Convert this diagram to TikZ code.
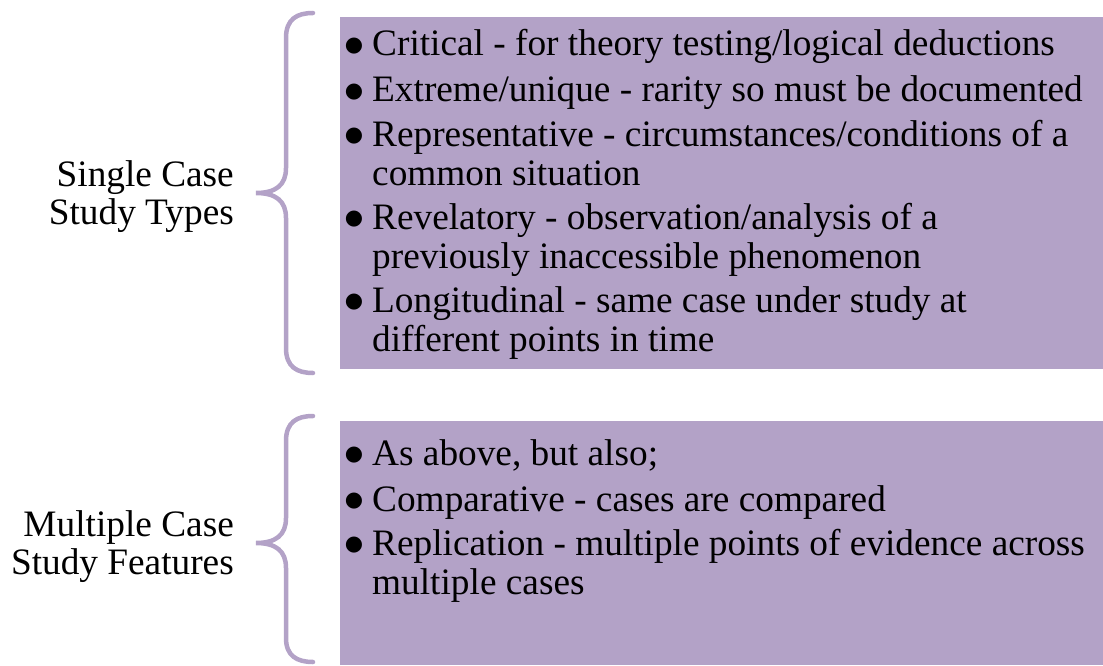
\documentclass[tikz,border=0pt]{standalone}
\usepackage{fontspec}
\setmainfont{Liberation Serif}
\newfontfamily\symfont{DejaVu Sans}
\definecolor{lilac}{HTML}{B3A2C7}
\newcommand\bulbox{\makebox[27pt][l]{\hspace*{-0.3pt}\raisebox{4.5pt}{\symfont\fontsize{21}{21}\selectfont ●}}}
\newcommand\hang{\hspace*{27pt}}
\begin{document}
\begin{tikzpicture}[x=1pt,y=-1pt,
  panel/.style={fill=lilac,draw=none},
  brace/.style={draw=lilac,line width=4.5pt,line cap=round},
  label/.style={inner sep=0pt,anchor=base east,align=right,
    font=\fontsize{37.3}{38}\selectfont},
  entry/.style={inner sep=0pt,anchor=base west,align=left,
    font=\fontsize{37.3}{39}\selectfont}]
\useasboundingbox (0,0) rectangle (1103,666);

% shaded panels
\path[panel] (340,17) rectangle (1103,369);
\path[panel] (340,421) rectangle (1103,665);

% curly braces
\draw[brace] (313,13) .. controls (297,13) and (286,19) .. (286,38)
  -- (286,168) .. controls (286,185) and (276,193) .. (256,193)
  .. controls (276,193) and (286,201) .. (286,218)
  -- (286,348) .. controls (286,367) and (297,373) .. (313,373);
\draw[brace] (313,416) .. controls (297,416) and (286,422) .. (286,441)
  -- (286,518) .. controls (286,535) and (276,543) .. (256,543)
  .. controls (276,543) and (286,551) .. (286,568)
  -- (286,638) .. controls (286,656) and (297,662) .. (313,662);

% group labels (anchored on the baseline of their last line)
\node[label] (single) at (234,224) {Single Case\\Study Types};
\node[label] (multi) at (234,574) {Multiple Case\\Study Features};

% single case study types
\node[entry] (crit) at (345,56) {\bulbox Critical - for theory testing/logical deductions};
\node[entry] (extr) at (345,102) {\bulbox Extreme/unique - rarity so must be documented};
\node[entry] (repr) at (345,185) {\bulbox Representative - circumstances/conditions of a\\\hang common situation};
\node[entry] (revl) at (345,268) {\bulbox Revelatory - observation/analysis of a\\\hang previously inaccessible phenomenon};
\node[entry] (long) at (345,351) {\bulbox Longitudinal - same case under study at\\\hang different points in time};

% multiple case study features
\node[entry] (asab) at (345,465) {\bulbox As above, but also;};
\node[entry] (comp) at (345,511) {\bulbox Comparative - cases are compared};
\node[entry] (repl) at (345,594) {\bulbox Replication - multiple points of evidence across\\\hang multiple cases};
\end{tikzpicture}
\end{document}
